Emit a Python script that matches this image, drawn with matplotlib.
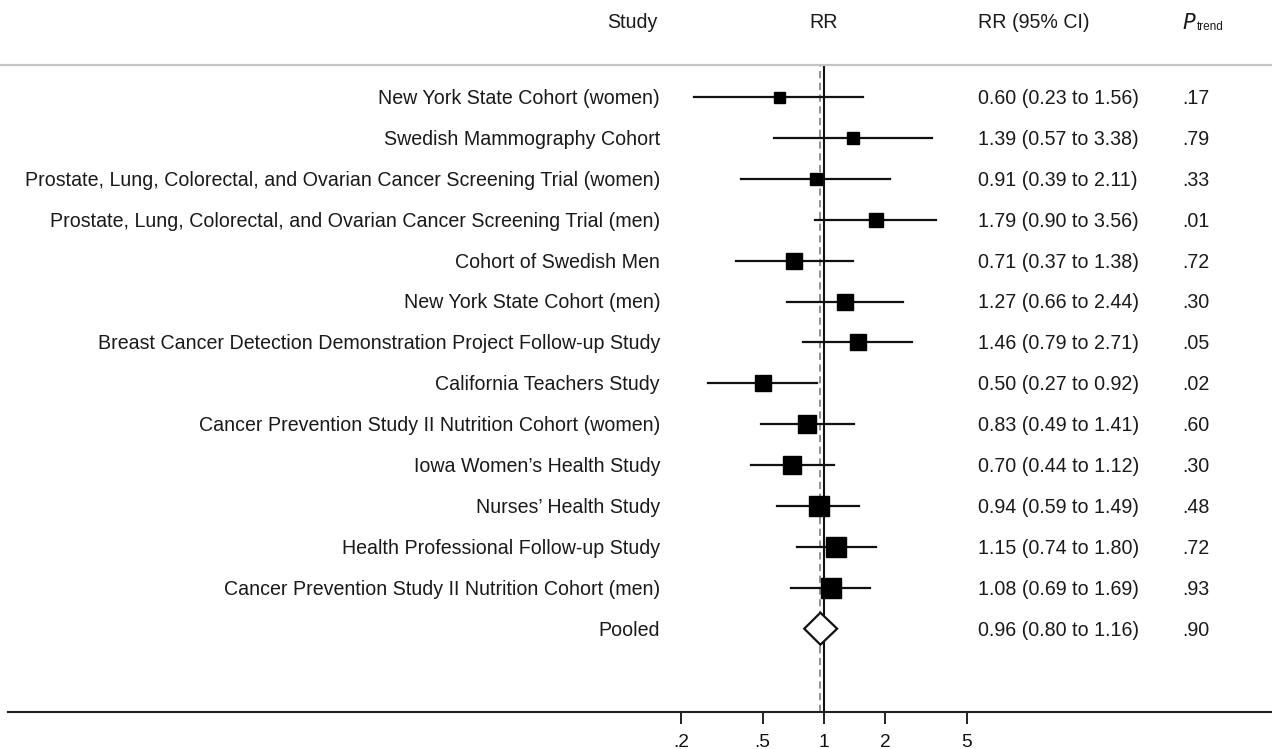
import matplotlib
matplotlib.use("Agg")
import matplotlib.pyplot as plt
from matplotlib.lines import Line2D
from matplotlib.patches import Polygon
import numpy as np

plt.rcParams['font.family'] = ['Liberation Sans', 'DejaVu Sans']

studies = [
    "New York State Cohort (women)",
    "Swedish Mammography Cohort",
    "Prostate, Lung, Colorectal, and Ovarian Cancer Screening Trial (women)",
    "Prostate, Lung, Colorectal, and Ovarian Cancer Screening Trial (men)",
    "Cohort of Swedish Men",
    "New York State Cohort (men)",
    "Breast Cancer Detection Demonstration Project Follow-up Study",
    "California Teachers Study",
    "Cancer Prevention Study II Nutrition Cohort (women)",
    "Iowa Women\u2019s Health Study",
    "Nurses\u2019 Health Study",
    "Health Professional Follow-up Study",
    "Cancer Prevention Study II Nutrition Cohort (men)",
]
rr = [0.60, 1.39, 0.91, 1.79, 0.71, 1.27, 1.46, 0.50, 0.83, 0.70, 0.94, 1.15, 1.08]
lo = [0.23, 0.57, 0.39, 0.90, 0.37, 0.66, 0.79, 0.27, 0.49, 0.44, 0.59, 0.74, 0.69]
hi = [1.56, 3.38, 2.11, 3.56, 1.38, 2.44, 2.71, 0.92, 1.41, 1.12, 1.49, 1.80, 1.69]
p_trend = [".17", ".79", ".33", ".01", ".72", ".30", ".05", ".02", ".60", ".30", ".48", ".72", ".93"]
# relative study weights
weights = [11.0, 12.7, 12.7, 14.0, 15.7, 15.3, 16.0, 16.0, 17.3, 18.7, 19.3, 19.7, 20.7]

pooled_label = "Pooled"
pooled_rr, pooled_lo, pooled_hi, pooled_p = 0.96, 0.80, 1.16, ".90"

tick_vals = [0.2, 0.5, 1, 2, 5]
tick_labels = [".2", ".5", "1", "2", "5"]

W, H = 1272, 749
fig = plt.figure(figsize=(W / 100, H / 100), dpi=100)

# layout in pixels
ax_left, ax_right, ax_top, ax_bottom = 8, 1272, 65, 712
x_one, px_dec = 824, 204
row0_py, row_step = 97, 40.9

ax = fig.add_axes([ax_left / W, (H - ax_bottom) / H, (ax_right - ax_left) / W, (ax_bottom - ax_top) / H])
ax.set_xscale('log')
ax.set_xlim(10 ** ((ax_left - x_one) / px_dec), 10 ** ((ax_right - x_one) / px_dec))
n = len(studies) + 1
top_rows = (row0_py - ax_top) / row_step
bot_rows = (ax_bottom - (row0_py + (n - 1) * row_step)) / row_step
ax.set_ylim(n - 1 + bot_rows, -top_rows)

for s in ['top', 'left', 'right']:
    ax.spines[s].set_visible(False)
ax.spines['bottom'].set_linewidth(1.5)
ax.spines['bottom'].set_color('#222222')
ax.set_yticks([])
ax.xaxis.set_minor_locator(matplotlib.ticker.NullLocator())
ax.set_xticks(tick_vals)
ax.set_xticklabels(tick_labels)
ax.tick_params(axis='x', length=8.5, width=1.4, color='#222222', labelsize=13.8, pad=7, labelcolor='#111111')

ylo, yhi = ax.get_ylim()
ax.plot([1, 1], [ylo, yhi], color='#111111', lw=1.5, zorder=2)
ax.plot([pooled_rr, pooled_rr], [ylo, yhi], color='#888888', lw=1.3, ls=(0, (4, 2.5)), zorder=1)

ys = np.arange(len(studies))
for i in range(len(studies)):
    ax.plot([lo[i], hi[i]], [ys[i], ys[i]], color='#111111', lw=1.6, zorder=3)
    ax.plot([rr[i]], [ys[i]], marker='s', ms=weights[i] * 0.72, color='black', mec='black', zorder=4)

yp = len(studies)
half_h = 16 / row_step
dia = Polygon([[pooled_lo, yp], [pooled_rr, yp - half_h], [pooled_hi, yp], [pooled_rr, yp + half_h]],
              closed=True, facecolor='white', edgecolor='#111111', lw=1.6, zorder=5)
ax.add_patch(dia)

fs = 14.1
tc = '#1a1a1a'
def fy(py):
    return (H - py) / H

header_py = 23
fig.text(657 / W, fy(header_py), "Study", ha='right', va='center', fontsize=fs, color=tc)
fig.text(824 / W, fy(header_py), "RR", ha='center', va='center', fontsize=fs, color=tc)
fig.text(978 / W, fy(header_py), "RR (95% CI)", ha='left', va='center', fontsize=fs, color=tc)
fig.text(1182 / W, fy(header_py), r"$\mathit{P}$", ha='left', va='center', fontsize=fs + 1, color=tc)
fig.text(1197 / W, fy(header_py + 4), "trend", ha='left', va='center', fontsize=8.5, color=tc)

labels_all = studies + [pooled_label]
rr_all = rr + [pooled_rr]
lo_all = lo + [pooled_lo]
hi_all = hi + [pooled_hi]
p_all = p_trend + [pooled_p]
for i in range(n):
    py = row0_py + i * row_step + 1.5
    fig.text(660 / W, fy(py), labels_all[i], ha='right', va='center', fontsize=fs, color=tc)
    fig.text(978 / W, fy(py), f"{rr_all[i]:.2f} ({lo_all[i]:.2f} to {hi_all[i]:.2f})", ha='left', va='center', fontsize=fs, color=tc)
    fig.text(1182 / W, fy(py), p_all[i], ha='left', va='center', fontsize=fs, color=tc)

fig.add_artist(Line2D([0, 1], [fy(65), fy(65)], color='#c4c4c4', lw=1.6))

fig.savefig("out.png", dpi=100)
